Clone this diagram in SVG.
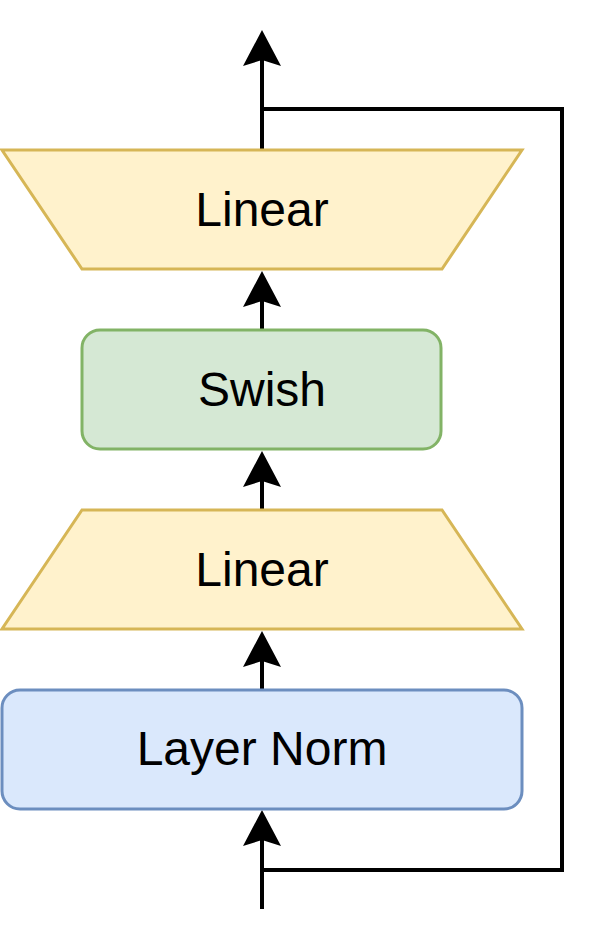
<svg xmlns="http://www.w3.org/2000/svg" width="596" height="944" viewBox="0 0 596 944">
<style>
.lbl{font-family:"Liberation Sans",Arial,sans-serif;font-size:48px;fill:#000;text-anchor:middle}
.lin{fill:#fff2cc;stroke:#d6b656;stroke-width:3}
.con{fill:none;stroke:#000;stroke-width:4}
</style>
<defs>
<marker id="ah" markerUnits="userSpaceOnUse" markerWidth="40" markerHeight="40" viewBox="0 -20 38 40" refX="6" refY="0" orient="auto">
<path d="M36,0 L0,-19 L6,0 L0,19 Z" fill="#000"/>
</marker>
</defs>
<rect width="596" height="944" fill="#fff"/>
<g id="connectors">
<path class="con" d="M262,909 V840" marker-end="url(#ah)"/>
<path class="con" d="M262,870 H562 V109 H262"/>
<path class="con" d="M262,149 V60" marker-end="url(#ah)"/>
<path class="con" d="M262,689 V661" marker-end="url(#ah)"/>
<path class="con" d="M262,509 V481" marker-end="url(#ah)"/>
<path class="con" d="M262,329 V301" marker-end="url(#ah)"/>
</g>
<g id="linear-top">
<polygon class="lin" points="2,150 522,150 442,269 82,269"/>
<text class="lbl" x="262" y="226">Linear</text>
</g>
<g id="swish">
<rect x="82" y="330" width="359" height="119" rx="18" fill="#d5e8d4" stroke="#82b366" stroke-width="3"/>
<text class="lbl" x="262" y="406">Swish</text>
</g>
<g id="linear-bottom">
<polygon class="lin" points="82,510 442,510 522,629 2,629"/>
<text class="lbl" x="262" y="586">Linear</text>
</g>
<g id="layer-norm">
<rect x="2" y="690" width="520" height="119" rx="18" fill="#dae8fc" stroke="#6c8ebf" stroke-width="3"/>
<text class="lbl" x="262" y="765">Layer Norm</text>
</g>
</svg>
